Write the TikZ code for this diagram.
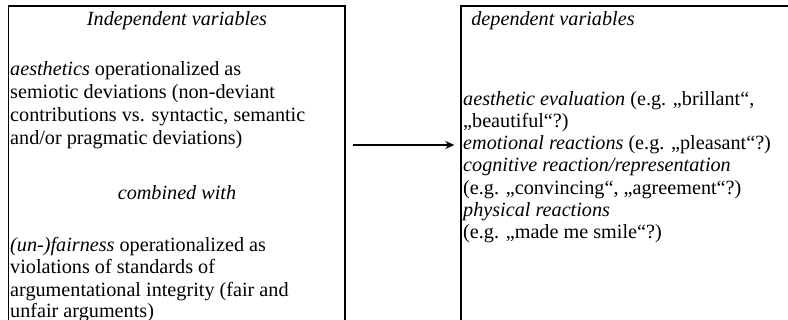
\documentclass[tikz,border=0pt]{standalone}
\usepackage{fontspec}
\setmainfont{Liberation Serif}
\usetikzlibrary{arrows.meta}
\begin{document}
\begin{tikzpicture}[x=1pt,y=-1pt,
  box/.style={draw=black,line width=1.3pt,rectangle,inner sep=0pt},
  txt/.style={anchor=base west,inner sep=0pt,font=\fontsize{20.2}{23}\selectfont},
  ttl/.style={anchor=base,inner sep=0pt,font=\fontsize{20.2}{23}\selectfont\itshape},
  conn/.style={line width=1.3pt,-{Stealth[length=9pt,width=8pt]}}]
\useasboundingbox (0,0) rectangle (788,320);
\fill[white] (0,0) rectangle (788,320);
\node[box,minimum width=336.5pt,minimum height=330pt] (L) at (176.75,171) {};
\node[box,minimum width=340pt,minimum height=330pt] (R) at (631,171) {};
\coordinate (ay) at (0,145);
\draw[conn] ([xshift=7pt]L.east |- ay) -- ([xshift=-6pt]R.west |- ay);
% left
\node[ttl] (t1) at (177,26) {Independent variables};
\node[txt] (l1) at (10,76) {\textit{aesthetics} operationalized as};
\node[txt] (l2) at (10,99) {semiotic deviations (non-deviant};
\node[txt] (l3) at (10,122) {contributions vs. syntactic, semantic};
\node[txt] (l4) at (10,145) {and/or pragmatic deviations)};
\node[ttl] (c1) at (177,200) {combined with};
\node[txt] (l5) at (10,252) {\textit{(un-)fairness} operationalized as};
\node[txt] (l6) at (10,274) {violations of standards of};
\node[txt] (l7) at (10,297) {argumentational integrity (fair and};
\node[txt] (l8) at (10,318) {unfair arguments)};
% right
\node[ttl] (t2) at (553,26) {dependent variables};
\node[txt] (r1) at (463,106) {\textit{aesthetic evaluation} (e.g. „brillant“,};
\node[txt] (r2) at (463,128) {„beautiful“?)};
\node[txt] (r3) at (463,150) {\textit{emotional reactions} (e.g. „pleasant“?)};
\node[txt] (r4) at (463,172) {\textit{cognitive reaction/representation}};
\node[txt] (r5) at (463,195) {(e.g. „convincing“, „agreement“?)};
\node[txt] (r6) at (463,217) {\textit{physical reactions}};
\node[txt] (r7) at (463,239) {(e.g. „made me smile“?)};
\end{tikzpicture}
\end{document}
